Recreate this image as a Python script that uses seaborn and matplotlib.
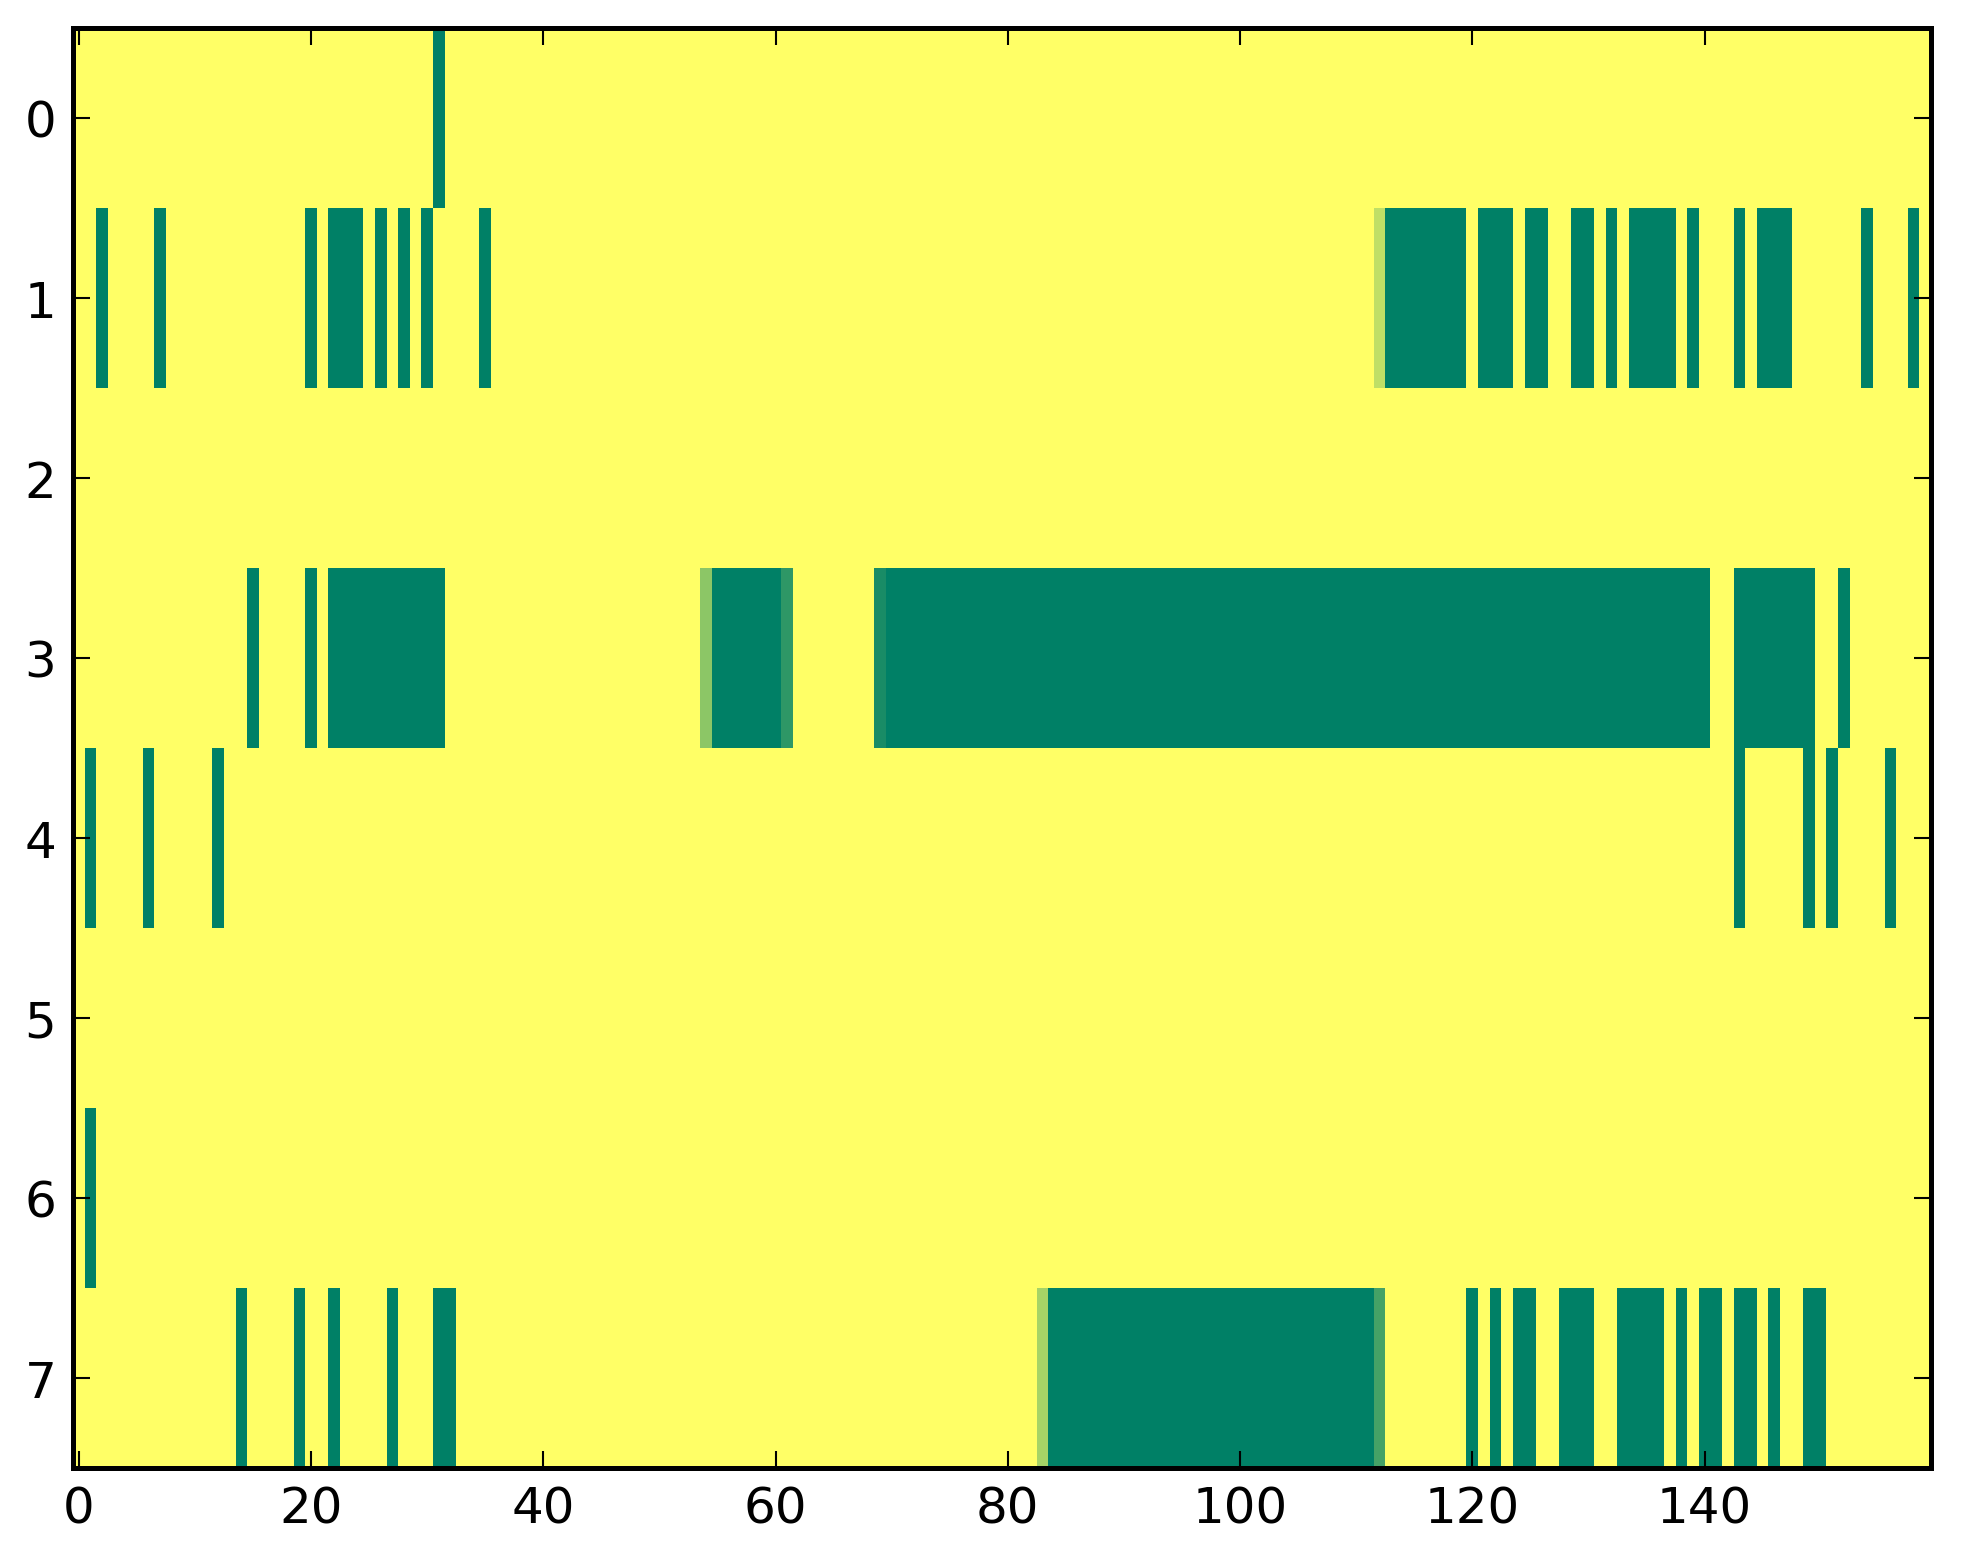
import numpy as np
import pandas as pd
import matplotlib
matplotlib.use("Agg")
import matplotlib.pyplot as plt
import seaborn as sns

# ---------------- data ----------------
n_cols = 160
row_labels = [0, 1, 2, 3, 4, 5, 6, 7]
x_tick_values = [0, 20, 40, 60, 80, 100, 120, 140]

# runs of fully "on" cells (start, end inclusive) per row
row0_runs = [(31, 31)]
row1_runs = [(2, 2), (7, 7), (20, 20), (22, 24), (26, 26), (28, 28), (30, 30), (35, 35),
             (113, 119), (121, 123), (125, 126), (129, 130), (132, 132), (134, 137),
             (139, 139), (143, 143), (145, 147), (154, 154), (158, 158)]
row2_runs = []
row3_runs = [(15, 15), (20, 20), (22, 31), (55, 60), (70, 140), (143, 149), (152, 152)]
row4_runs = [(1, 1), (6, 6), (12, 12), (143, 143), (149, 149), (151, 151), (156, 156)]
row5_runs = []
row6_runs = [(1, 1)]
row7_runs = [(14, 14), (19, 19), (22, 22), (27, 27), (31, 32), (84, 111), (120, 120),
             (122, 122), (124, 125), (128, 130), (133, 136), (138, 138), (140, 141),
             (143, 144), (146, 146), (149, 150)]

# partially "on" cells: (row, column, value)
partial_cells = [(1, 112, 0.25), (3, 54, 0.45), (3, 61, 0.82), (3, 69, 0.90),
                 (7, 83, 0.35), (7, 112, 0.73)]

all_runs = [row0_runs, row1_runs, row2_runs, row3_runs,
            row4_runs, row5_runs, row6_runs, row7_runs]

mat = np.zeros((len(row_labels), n_cols))
for r, runs in enumerate(all_runs):
    for a, b in runs:
        mat[r, a:b + 1] = 1.0
for r, c, v in partial_cells:
    mat[r, c] = v
df = pd.DataFrame(mat, index=row_labels, columns=range(n_cols))

# ---------------- plot ----------------
sns.set_style("white")
plt.rcParams["font.family"] = ["DejaVu Sans"]

W, H, DPI = 1963, 1564, 300
fig = plt.figure(figsize=(W / DPI, H / DPI), dpi=DPI)
ax = fig.add_axes([73 / W, 95 / H, 1858 / W, 1440 / H])

sns.heatmap(df, ax=ax, cmap="summer_r", vmin=0, vmax=1, cbar=False,
            xticklabels=False, yticklabels=False, linewidths=0)

ax.set_axisbelow(False)
ax.set_xticks([v + 0.5 for v in x_tick_values])
ax.set_xticklabels([str(v) for v in x_tick_values], rotation=0)
ax.set_yticks([v + 0.5 for v in row_labels])
ax.set_yticklabels([str(v) for v in row_labels], rotation=0)
ax.set_xlabel("")
ax.set_ylabel("")

for s in ax.spines.values():
    s.set_visible(True)
    s.set_color("black")
    s.set_linewidth(1.2)
    s.set_zorder(5)

ax.tick_params(axis="both", which="major", direction="in", length=4, width=0.5,
               color="black", top=True, right=True, bottom=True, left=True,
               labeltop=False, labelright=False, labelsize=12, pad=4,
               labelcolor="black")

fig.savefig("out.png", dpi=DPI)
